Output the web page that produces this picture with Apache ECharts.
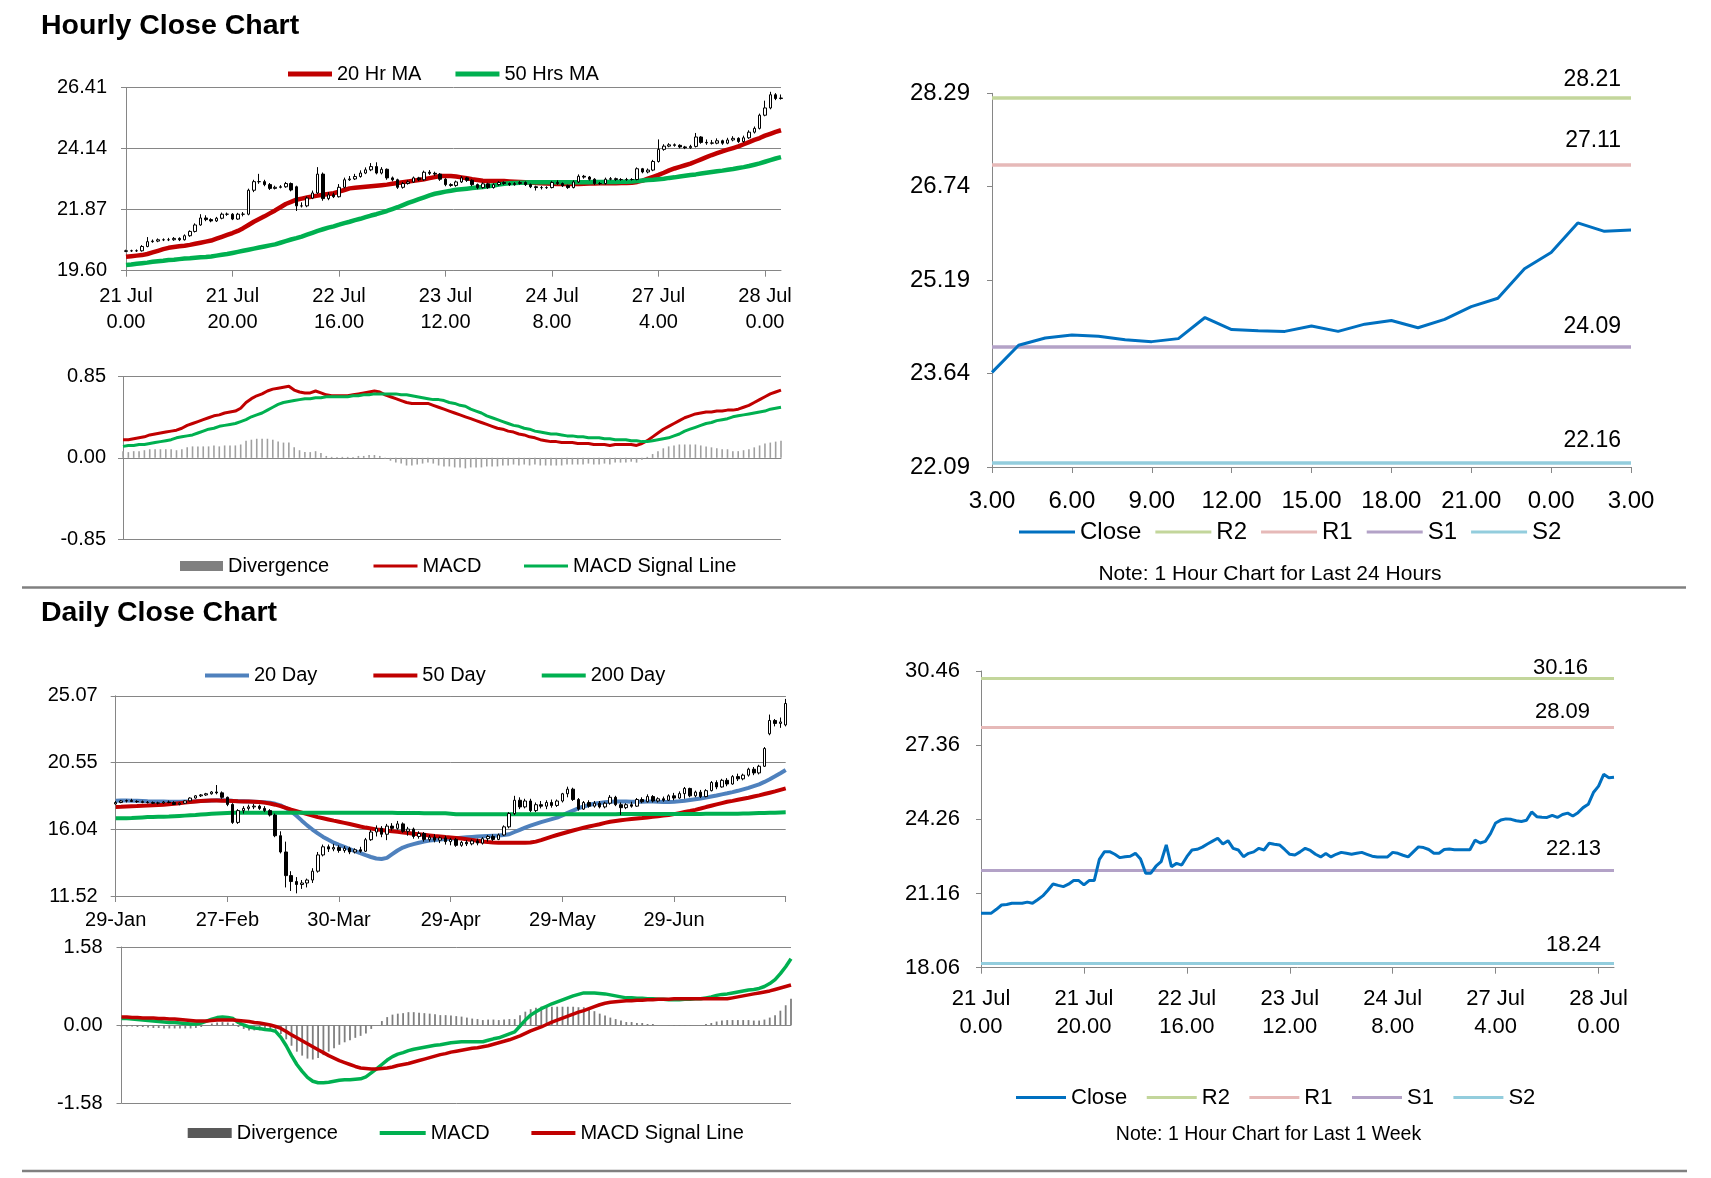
<!DOCTYPE html>
<html><head><meta charset="utf-8">
<script src="https://cdn.jsdelivr.net/npm/echarts@6/dist/echarts.min.js"></script>
<style>html,body{margin:0;padding:0;background:#fff}#c{width:1711px;height:1178px}</style>
</head><body><div id="c"></div>
<script>
const FONT = "'Liberation Sans', Arial, sans-serif";

// ---------- Hourly data: 21 Jul 0.00 .. 28 Jul 3.00 ----------
const hourDays = ['21 Jul','22 Jul','23 Jul','24 Jul','27 Jul','28 Jul'];
const hourCounts = [24,24,24,24,24,4];
const hourOpen = [
20.32,20.34,20.34,20.34,20.50,20.68,20.70,20.75,20.75,20.75,
20.80,20.75,20.90,21.06,21.30,21.56,21.50,21.45,21.55,21.70,
21.70,21.52,21.70,21.70,22.59,22.91,22.91,22.80,22.66,22.70,
22.72,22.84,22.72,22.01,22.01,22.30,22.49,23.19,22.28,22.42,
22.35,22.70,22.98,23.01,23.10,23.23,23.35,23.47,23.23,23.37,
23.05,22.98,22.70,22.84,22.90,23.05,22.98,23.26,23.22,23.19,
23.00,22.80,22.77,22.90,23.05,22.96,22.80,22.69,22.83,22.69,
22.80,22.88,22.84,22.80,22.84,22.88,22.80,22.72,22.69,22.69,
22.69,22.88,22.84,22.76,22.69,22.90,23.11,23.08,23.00,22.84,
22.84,23.00,23.02,22.99,22.99,22.99,22.99,23.39,23.27,23.34,
23.66,24.11,24.23,24.28,24.26,24.20,24.17,24.22,24.57,24.37,
24.35,24.34,24.43,24.34,24.46,24.52,24.40,24.54,24.75,24.89,
25.38,25.65,26.14,26.00];
const hourHigh = [
20.38,20.38,20.39,20.55,20.85,20.76,20.80,20.80,20.82,20.85,
20.84,20.95,21.10,21.36,21.70,21.66,21.55,21.60,21.76,21.76,
21.74,21.75,21.78,22.65,22.98,23.20,22.98,22.86,22.76,22.78,
22.90,22.88,22.76,22.14,22.36,22.58,23.45,23.25,22.52,22.50,
22.82,23.06,23.12,23.20,23.33,23.44,23.60,23.63,23.45,23.40,
23.10,23.02,22.90,22.96,23.10,23.09,23.32,23.34,23.28,23.23,
23.04,22.85,22.95,23.12,23.09,23.00,22.84,22.88,22.87,22.85,
22.93,22.92,22.88,22.89,22.93,22.92,22.84,22.76,22.75,22.74,
22.93,22.96,22.88,22.80,22.96,23.18,23.16,23.12,23.04,22.90,
23.06,23.08,23.06,23.04,23.05,23.04,23.44,23.42,23.40,23.72,
24.48,24.30,24.34,24.33,24.30,24.24,24.28,24.72,24.60,24.48,
24.46,24.52,24.47,24.54,24.60,24.56,24.62,24.82,24.96,25.44,
25.92,26.25,26.20,26.15];
const hourLow = [
20.29,20.30,20.30,20.31,20.47,20.64,20.66,20.70,20.70,20.71,
20.70,20.72,20.86,21.02,21.27,21.44,21.40,21.41,21.51,21.64,
21.48,21.49,21.62,21.66,22.52,22.83,22.74,22.60,22.62,22.66,
22.68,22.55,21.82,21.95,21.96,22.26,22.45,22.20,22.22,22.30,
22.32,22.66,22.94,22.97,23.06,23.19,23.30,23.18,23.18,22.98,
22.92,22.64,22.65,22.80,22.86,22.93,22.94,23.16,23.13,22.94,
22.74,22.72,22.72,22.86,22.90,22.74,22.63,22.65,22.64,22.65,
22.76,22.79,22.75,22.76,22.80,22.75,22.67,22.58,22.62,22.64,
22.66,22.79,22.71,22.64,22.66,22.86,23.02,22.95,22.79,22.79,
22.80,22.96,22.94,22.94,22.94,22.95,22.96,23.22,23.22,23.30,
23.62,24.06,24.19,24.21,24.15,24.12,24.13,24.18,24.32,24.28,
24.29,24.30,24.28,24.30,24.41,24.35,24.36,24.50,24.70,24.85,
25.34,25.60,25.94,25.96];
const hourClose = [
20.34,20.34,20.34,20.50,20.68,20.70,20.75,20.75,20.75,20.80,
20.75,20.90,21.06,21.30,21.56,21.50,21.45,21.55,21.70,21.70,
21.52,21.70,21.70,22.59,22.91,22.91,22.80,22.66,22.70,22.72,
22.84,22.60,22.01,22.01,22.30,22.49,23.19,22.28,22.42,22.35,
22.70,22.98,23.01,23.10,23.23,23.35,23.47,23.23,23.37,23.05,
22.98,22.70,22.84,22.90,23.05,22.98,23.26,23.22,23.19,23.00,
22.80,22.77,22.90,23.05,22.96,22.80,22.69,22.83,22.69,22.80,
22.88,22.84,22.80,22.84,22.88,22.80,22.72,22.69,22.69,22.69,
22.88,22.84,22.76,22.69,22.90,23.11,23.08,23.00,22.84,22.84,
23.00,23.02,22.99,22.99,22.99,22.99,23.39,23.27,23.34,23.66,
24.11,24.23,24.28,24.26,24.20,24.17,24.22,24.57,24.37,24.35,
24.34,24.43,24.34,24.46,24.52,24.40,24.54,24.75,24.89,25.38,
25.65,26.14,26.00,26.02];
const ma20Hr = [
20.12,20.14,20.16,20.18,20.22,20.28,20.34,20.40,20.45,20.48,
20.51,20.53,20.56,20.60,20.64,20.68,20.72,20.79,20.86,20.93,
21.00,21.08,21.18,21.30,21.42,21.52,21.62,21.73,21.84,21.96,
22.08,22.16,22.24,22.28,22.32,22.36,22.39,22.42,22.45,22.48,
22.54,22.60,22.66,22.68,22.70,22.72,22.74,22.76,22.78,22.80,
22.83,22.86,22.89,22.92,22.94,22.97,23.00,23.04,23.08,23.12,
23.12,23.12,23.10,23.07,23.04,23.00,22.97,22.94,22.93,22.93,
22.93,22.93,22.92,22.91,22.90,22.89,22.88,22.86,22.85,22.84,
22.83,22.82,22.82,22.82,22.82,22.82,22.83,22.84,22.84,22.85,
22.85,22.85,22.85,22.86,22.86,22.87,22.90,22.95,23.02,23.09,
23.16,23.24,23.33,23.40,23.46,23.52,23.58,23.66,23.74,23.82,
23.90,23.97,24.04,24.10,24.16,24.22,24.30,24.38,24.46,24.53,
24.62,24.69,24.76,24.82];
const ma50Hr = [
19.81,19.83,19.86,19.88,19.90,19.93,19.95,19.97,20.00,20.01,
20.03,20.05,20.06,20.08,20.10,20.11,20.13,20.16,20.19,20.22,
20.26,20.30,20.34,20.38,20.42,20.46,20.50,20.54,20.58,20.64,
20.70,20.76,20.81,20.87,20.94,21.01,21.08,21.14,21.20,21.25,
21.31,21.37,21.42,21.48,21.53,21.59,21.65,21.70,21.76,21.82,
21.89,21.96,22.04,22.12,22.19,22.26,22.33,22.40,22.46,22.50,
22.54,22.57,22.61,22.63,22.65,22.67,22.69,22.71,22.74,22.77,
22.80,22.83,22.85,22.86,22.87,22.88,22.89,22.89,22.89,22.89,
22.89,22.89,22.89,22.89,22.89,22.89,22.89,22.89,22.90,22.90,
22.90,22.90,22.90,22.91,22.91,22.92,22.93,22.95,22.97,22.98,
23.00,23.02,23.05,23.07,23.10,23.13,23.16,23.18,23.21,23.24,
23.27,23.30,23.32,23.35,23.38,23.42,23.45,23.49,23.54,23.59,
23.65,23.71,23.77,23.82];
const macdHour = [
0.19,0.19,0.20,0.21,0.22,0.24,0.25,0.26,0.27,0.28,
0.29,0.31,0.34,0.36,0.38,0.40,0.42,0.44,0.45,0.47,
0.48,0.49,0.52,0.58,0.62,0.65,0.67,0.70,0.72,0.73,
0.74,0.75,0.71,0.69,0.68,0.68,0.70,0.68,0.66,0.65,
0.65,0.65,0.65,0.66,0.67,0.68,0.69,0.70,0.69,0.66,
0.64,0.62,0.60,0.58,0.57,0.57,0.57,0.57,0.55,0.53,
0.51,0.49,0.47,0.45,0.43,0.41,0.39,0.37,0.35,0.33,
0.31,0.30,0.28,0.27,0.25,0.24,0.22,0.21,0.19,0.18,
0.17,0.17,0.16,0.16,0.16,0.15,0.15,0.15,0.14,0.14,
0.14,0.13,0.14,0.14,0.14,0.14,0.13,0.15,0.18,0.22,
0.26,0.30,0.33,0.36,0.39,0.42,0.44,0.46,0.47,0.48,
0.48,0.49,0.49,0.50,0.50,0.51,0.53,0.55,0.58,0.61,
0.64,0.67,0.69,0.71];
const signalHour = [
0.12,0.13,0.13,0.14,0.14,0.15,0.16,0.17,0.18,0.19,
0.21,0.22,0.23,0.24,0.26,0.28,0.30,0.31,0.33,0.34,
0.35,0.36,0.38,0.40,0.43,0.45,0.47,0.50,0.53,0.56,
0.58,0.59,0.60,0.61,0.62,0.62,0.63,0.63,0.64,0.64,
0.64,0.64,0.64,0.65,0.65,0.66,0.66,0.67,0.67,0.67,
0.67,0.67,0.66,0.66,0.65,0.64,0.63,0.62,0.61,0.61,
0.60,0.58,0.57,0.55,0.54,0.51,0.49,0.47,0.44,0.42,
0.40,0.38,0.36,0.34,0.33,0.31,0.30,0.28,0.27,0.26,
0.25,0.25,0.24,0.23,0.23,0.22,0.22,0.21,0.21,0.21,
0.20,0.20,0.19,0.19,0.19,0.18,0.18,0.17,0.17,0.18,
0.19,0.20,0.21,0.23,0.25,0.28,0.30,0.32,0.34,0.36,
0.37,0.39,0.40,0.41,0.43,0.44,0.45,0.46,0.47,0.48,
0.49,0.51,0.52,0.53];
const divergenceHour = [
0.07,0.06,0.07,0.07,0.08,0.09,0.09,0.09,0.09,0.09,
0.08,0.09,0.11,0.12,0.12,0.12,0.12,0.13,0.12,0.13,
0.13,0.13,0.14,0.18,0.19,0.20,0.20,0.20,0.19,0.17,
0.16,0.16,0.11,0.08,0.06,0.06,0.07,0.05,0.02,0.01,
0.01,0.01,0.01,0.01,0.02,0.02,0.03,0.03,0.02,-0.01,
-0.03,-0.05,-0.06,-0.08,-0.08,-0.07,-0.06,-0.05,-0.06,-0.08,
-0.09,-0.09,-0.10,-0.10,-0.11,-0.10,-0.10,-0.10,-0.09,-0.09,
-0.09,-0.08,-0.08,-0.07,-0.08,-0.07,-0.08,-0.07,-0.08,-0.08,
-0.08,-0.08,-0.08,-0.07,-0.07,-0.07,-0.07,-0.06,-0.07,-0.07,
-0.06,-0.07,-0.05,-0.05,-0.05,-0.04,-0.05,-0.02,0.01,0.04,
0.07,0.10,0.12,0.13,0.14,0.14,0.14,0.14,0.13,0.12,
0.11,0.10,0.09,0.09,0.07,0.07,0.08,0.09,0.11,0.13,
0.15,0.16,0.17,0.18];

// ---------- Last 24 hours ----------
const last24Labels = ['3.00','4.00','5.00','6.00','7.00','8.00','9.00','10.00','11.00','12.00','13.00','14.00','15.00','16.00','17.00','18.00','19.00','20.00','21.00','22.00','23.00','0.00','1.00','2.00','3.00'];
const last24Close = [23.66,24.11,24.23,24.28,24.26,24.20,24.17,24.22,24.57,24.37,24.35,24.34,24.43,24.34,24.46,24.52,24.40,24.54,24.75,24.89,25.38,25.65,26.14,26.00,26.02];
const levelNames = ['R2','R1','S1','S2'];
const last24Levels = [28.21, 27.11, 24.09, 22.16];
const weekLevels = [30.16, 28.09, 22.13, 18.24];

// ---------- Daily data: 29 Jan .. 28 Jul ----------
const dailyTickLabels = ['29-Jan','27-Feb','30-Mar','29-Apr','29-May','29-Jun'];
const dailyOpen = [
17.75,17.85,17.95,17.98,17.92,17.90,17.86,17.84,17.80,17.82,
17.88,17.85,17.72,17.80,17.96,18.15,18.30,18.36,18.44,18.56,
18.50,18.20,17.72,16.50,17.30,17.45,17.55,17.60,17.45,17.30,
17.00,15.60,14.50,12.90,12.50,12.30,12.40,12.60,13.20,14.30,
14.85,14.70,14.80,14.60,14.75,14.50,14.65,14.55,15.33,15.85,
16.10,15.70,16.25,16.10,16.40,15.90,16.05,15.55,15.75,15.35,
15.50,15.30,15.45,15.20,15.35,14.95,15.15,15.05,15.25,15.10,
15.40,15.55,15.35,15.65,16.20,17.10,18.00,17.55,17.95,17.30,
17.70,17.60,17.85,17.65,17.95,18.44,18.75,18.05,17.40,17.85,
17.60,17.80,17.55,17.80,18.20,17.70,17.50,17.70,17.60,18.05,
17.90,18.25,17.95,18.10,18.00,18.30,18.15,18.45,18.80,18.30,
18.55,18.25,18.65,19.20,18.90,19.35,19.10,19.60,19.45,19.70,
20.10,19.85,20.30,22.50,23.40,23.20,23.10];
const dailyHigh = [
17.95,18.02,18.05,18.10,18.00,17.98,17.95,17.92,17.90,17.95,
17.98,17.94,17.86,18.00,18.20,18.35,18.42,18.50,18.62,19.03,
18.60,18.25,17.80,17.40,17.60,17.70,17.75,17.70,17.60,17.40,
17.10,15.90,15.20,13.20,12.80,12.60,12.70,13.40,14.50,15.00,
15.00,15.05,14.95,14.90,14.85,14.75,14.85,15.45,16.00,16.30,
16.25,16.40,16.45,16.60,16.50,16.20,16.15,15.90,15.85,15.65,
15.70,15.55,15.60,15.45,15.45,15.25,15.30,15.35,15.40,15.50,
15.65,15.70,15.75,16.30,17.20,18.30,18.20,18.10,18.10,17.85,
17.95,18.00,18.05,18.05,18.50,18.92,18.85,18.15,17.95,18.00,
17.95,17.95,17.90,18.35,18.30,17.85,17.80,17.90,18.15,18.20,
18.40,18.35,18.20,18.25,18.40,18.50,18.60,18.90,18.85,18.65,
18.70,18.75,19.30,19.35,19.45,19.50,19.70,19.80,19.80,20.20,
20.25,20.40,21.60,23.80,23.50,23.60,24.86];
const dailyLow = [
17.70,17.80,17.85,17.88,17.82,17.80,17.78,17.75,17.72,17.76,
17.80,17.68,17.66,17.76,17.92,18.10,18.22,18.30,18.38,18.40,
18.10,17.60,16.40,16.40,17.10,17.30,17.40,17.35,17.20,16.90,
15.50,14.40,12.10,11.86,11.70,12.00,12.10,12.40,13.10,14.20,
14.50,14.55,14.45,14.45,14.35,14.40,14.45,14.50,15.25,15.55,
15.50,15.30,15.95,16.00,15.80,15.60,15.40,15.40,15.20,15.20,
15.15,15.10,15.00,14.95,14.85,14.85,14.90,14.95,14.95,15.00,
15.20,15.25,15.30,15.60,16.10,17.00,17.40,17.45,17.20,17.20,
17.45,17.40,17.50,17.55,17.85,18.20,17.95,17.30,17.35,17.50,
17.50,17.45,17.45,17.70,17.60,17.00,17.40,17.50,17.55,17.80,
17.85,17.85,17.85,17.90,17.95,18.00,18.10,18.10,18.20,18.20,
18.15,18.20,18.60,18.75,18.85,18.95,19.05,19.30,19.35,19.60,
19.70,19.75,20.25,22.40,23.00,22.90,23.00];
const dailyClose = [
17.85,17.95,17.98,17.92,17.90,17.86,17.84,17.80,17.82,17.88,
17.85,17.72,17.80,17.96,18.15,18.30,18.36,18.44,18.56,18.50,
18.20,17.72,16.50,17.30,17.45,17.55,17.60,17.45,17.30,17.00,
15.60,14.50,12.90,12.50,12.30,12.40,12.60,13.20,14.30,14.85,
14.70,14.80,14.60,14.75,14.50,14.65,14.55,15.33,15.85,16.10,
15.70,16.25,16.10,16.40,15.90,16.05,15.55,15.75,15.35,15.50,
15.30,15.45,15.20,15.35,14.95,15.15,15.05,15.25,15.10,15.40,
15.55,15.35,15.65,16.20,17.10,18.00,17.55,17.95,17.30,17.70,
17.60,17.85,17.65,17.95,18.44,18.75,18.05,17.40,17.85,17.60,
17.80,17.55,17.80,18.20,17.70,17.50,17.70,17.60,18.05,17.90,
18.25,17.95,18.10,18.00,18.30,18.15,18.45,18.80,18.30,18.55,
18.25,18.65,19.20,18.90,19.35,19.10,19.60,19.45,19.70,20.10,
19.85,20.30,21.50,23.40,23.20,23.30,24.55];
const ma20Day = [
17.97,17.98,17.98,17.97,17.96,17.95,17.93,17.92,17.91,17.91,
17.90,17.90,17.90,17.91,17.92,17.93,17.95,17.97,17.99,18.00,
18.00,17.99,17.96,17.94,17.93,17.92,17.90,17.88,17.86,17.83,
17.76,17.65,17.48,17.25,16.95,16.62,16.30,16.02,15.76,15.52,
15.32,15.13,14.98,14.84,14.70,14.56,14.42,14.28,14.16,14.06,
14.03,14.10,14.35,14.60,14.80,14.93,15.03,15.12,15.20,15.27,
15.31,15.34,15.37,15.40,15.43,15.46,15.49,15.52,15.54,15.56,
15.58,15.60,15.62,15.65,15.70,15.85,16.00,16.15,16.28,16.40,
16.52,16.62,16.72,16.82,16.98,17.15,17.30,17.45,17.58,17.68,
17.76,17.82,17.87,17.90,17.91,17.91,17.91,17.90,17.90,17.90,
17.91,17.91,17.90,17.89,17.89,17.90,17.93,17.97,18.02,18.07,
18.12,18.18,18.25,18.32,18.40,18.47,18.55,18.64,18.74,18.84,
18.96,19.08,19.24,19.42,19.62,19.83,20.05];
const ma50Day = [
17.55,17.56,17.58,17.60,17.61,17.63,17.64,17.66,17.68,17.70,
17.73,17.76,17.80,17.84,17.88,17.92,17.95,17.97,17.98,17.98,
17.97,17.96,17.95,17.93,17.92,17.91,17.90,17.88,17.84,17.78,
17.70,17.60,17.48,17.36,17.26,17.16,17.06,16.96,16.86,16.78,
16.70,16.62,16.55,16.47,16.39,16.31,16.22,16.15,16.09,16.03,
15.98,15.94,15.90,15.86,15.82,15.78,15.74,15.70,15.66,15.62,
15.58,15.55,15.51,15.48,15.45,15.41,15.36,15.31,15.26,15.21,
15.17,15.14,15.13,15.13,15.13,15.13,15.13,15.13,15.14,15.20,
15.30,15.42,15.54,15.65,15.75,15.85,15.95,16.05,16.14,16.22,
16.30,16.38,16.47,16.55,16.60,16.65,16.69,16.73,16.77,16.80,
16.84,16.88,16.92,16.96,17.00,17.06,17.13,17.20,17.27,17.35,
17.44,17.54,17.63,17.72,17.81,17.90,17.96,18.03,18.10,18.17,
18.25,18.33,18.42,18.51,18.60,18.70,18.80];
const ma200Day = [
16.78,16.78,16.79,16.80,16.82,16.84,16.86,16.87,16.88,16.89,
16.90,16.92,16.94,16.96,16.98,17.00,17.03,17.06,17.08,17.10,
17.12,17.14,17.16,17.16,17.16,17.16,17.16,17.16,17.16,17.16,
17.16,17.16,17.16,17.15,17.15,17.15,17.15,17.15,17.15,17.15,
17.15,17.15,17.15,17.15,17.15,17.15,17.15,17.15,17.15,17.15,
17.15,17.15,17.15,17.14,17.14,17.13,17.13,17.13,17.12,17.12,
17.12,17.12,17.12,17.09,17.06,17.05,17.05,17.05,17.05,17.05,
17.05,17.05,17.05,17.05,17.05,17.06,17.06,17.06,17.06,17.06,
17.06,17.06,17.06,17.06,17.06,17.06,17.06,17.06,17.06,17.06,
17.06,17.06,17.06,17.06,17.06,17.07,17.07,17.07,17.07,17.07,
17.07,17.07,17.07,17.07,17.07,17.07,17.07,17.07,17.07,17.07,
17.07,17.08,17.08,17.08,17.08,17.08,17.08,17.09,17.10,17.11,
17.12,17.13,17.14,17.15,17.16,17.17,17.18];
const macdDay = [
0.13,0.13,0.12,0.11,0.10,0.09,0.08,0.07,0.06,0.05,
0.05,0.04,0.03,0.02,0.02,0.04,0.08,0.12,0.15,0.16,
0.15,0.13,0.05,0.00,-0.04,-0.06,-0.07,-0.09,-0.10,-0.13,
-0.25,-0.42,-0.62,-0.80,-0.94,-1.06,-1.14,-1.17,-1.17,-1.16,
-1.14,-1.12,-1.11,-1.11,-1.10,-1.09,-1.05,-0.97,-0.89,-0.80,
-0.71,-0.64,-0.59,-0.56,-0.52,-0.49,-0.47,-0.45,-0.43,-0.41,
-0.40,-0.38,-0.36,-0.35,-0.34,-0.34,-0.34,-0.34,-0.34,-0.31,
-0.28,-0.26,-0.22,-0.18,-0.14,-0.02,0.10,0.20,0.27,0.33,
0.38,0.43,0.47,0.51,0.55,0.59,0.62,0.65,0.65,0.65,
0.64,0.63,0.61,0.59,0.57,0.55,0.55,0.54,0.54,0.53,
0.53,0.52,0.52,0.51,0.51,0.51,0.52,0.52,0.53,0.53,
0.55,0.57,0.60,0.62,0.63,0.65,0.67,0.69,0.71,0.72,
0.74,0.78,0.84,0.92,1.04,1.18,1.34];
const signalDay = [
0.16,0.16,0.15,0.15,0.14,0.14,0.14,0.13,0.13,0.12,
0.12,0.11,0.10,0.09,0.08,0.08,0.08,0.09,0.10,0.10,
0.10,0.10,0.09,0.08,0.07,0.05,0.04,0.02,0.00,-0.03,
-0.07,-0.13,-0.20,-0.26,-0.32,-0.38,-0.44,-0.50,-0.56,-0.62,
-0.67,-0.72,-0.76,-0.80,-0.84,-0.87,-0.88,-0.89,-0.89,-0.88,
-0.87,-0.85,-0.82,-0.80,-0.78,-0.75,-0.72,-0.69,-0.66,-0.63,
-0.60,-0.58,-0.55,-0.53,-0.51,-0.49,-0.47,-0.46,-0.44,-0.42,
-0.39,-0.36,-0.33,-0.30,-0.26,-0.22,-0.17,-0.12,-0.08,-0.04,
0.01,0.06,0.10,0.14,0.18,0.22,0.26,0.29,0.33,0.37,
0.41,0.44,0.46,0.47,0.48,0.49,0.49,0.50,0.50,0.51,
0.51,0.52,0.52,0.52,0.53,0.53,0.53,0.53,0.53,0.53,
0.53,0.53,0.53,0.53,0.53,0.55,0.57,0.59,0.61,0.63,
0.65,0.67,0.69,0.72,0.75,0.78,0.81];
const divergenceDay = [
-0.03,-0.03,-0.03,-0.04,-0.04,-0.05,-0.06,-0.06,-0.07,-0.07,
-0.07,-0.07,-0.07,-0.07,-0.06,-0.04,0.00,0.03,0.05,0.06,
0.05,0.03,-0.04,-0.08,-0.11,-0.11,-0.11,-0.11,-0.10,-0.10,
-0.18,-0.29,-0.42,-0.54,-0.62,-0.68,-0.70,-0.67,-0.61,-0.54,
-0.47,-0.40,-0.35,-0.31,-0.26,-0.22,-0.17,-0.08,0.00,0.08,
0.16,0.21,0.23,0.24,0.26,0.26,0.25,0.24,0.23,0.22,
0.20,0.20,0.19,0.18,0.17,0.15,0.13,0.12,0.10,0.11,
0.11,0.10,0.11,0.12,0.12,0.20,0.27,0.32,0.35,0.37,
0.37,0.37,0.37,0.37,0.37,0.37,0.36,0.36,0.32,0.28,
0.23,0.19,0.15,0.12,0.09,0.06,0.06,0.04,0.04,0.02,
0.02,0.00,0.00,-0.01,-0.02,-0.02,-0.01,-0.01,0.00,0.00,
0.02,0.04,0.07,0.09,0.10,0.10,0.10,0.10,0.10,0.09,
0.09,0.11,0.15,0.20,0.29,0.40,0.53];

// ---------- categories built from labels ----------
const hourLabels = [];
hourDays.forEach((d, k) => { for (let h = 0; h < hourCounts[k]; h++) hourLabels.push(d + '\n' + h + '.00'); });
const dailyCats = dailyClose.map((_, i) => 'd' + i);

// ---------- styling helpers ----------
const GRAY = '#868686';
const RED = '#c00000', GREEN = '#00b050', BLUE = '#4f81bd', CLOSE = '#0070c0';
const levelColors = ['#c3d69b', '#e6b9b8', '#b3a2c7', '#93cddd'];
const txt = s => ({ color: '#000', fontSize: s, fontFamily: FONT });

function vAxis(gi, min, max, interval, fs, margin, split) {
  return { type: 'value', gridIndex: gi, min, max, interval,
    axisLine: { show: true, lineStyle: { color: GRAY, width: 1 } },
    axisTick: { show: true, length: 5, lineStyle: { color: GRAY } },
    splitLine: { show: split, lineStyle: { color: GRAY, width: 1 } },
    axisLabel: Object.assign(txt(fs), { margin, formatter: v => v.toFixed(2) }) };
}
function cAxis(gi, data, every, fs, margin, lh, showLabel, formatter) {
  const lab = Object.assign(txt(fs), { show: showLabel, interval: every - 1, margin, lineHeight: lh });
  if (formatter) lab.formatter = formatter;
  return { type: 'category', gridIndex: gi, data, boundaryGap: false,
    axisLine: { show: true, onZero: true, lineStyle: { color: GRAY, width: 1 } },
    axisTick: { show: showLabel, interval: every - 1, length: 6, lineStyle: { color: GRAY } },
    axisLabel: lab, splitLine: { show: false } };
}
function line(name, xi, data, color, width, z) {
  return { name, type: 'line', xAxisIndex: xi, yAxisIndex: xi, data, showSymbol: false, symbol: 'none',
    lineStyle: { color, width }, itemStyle: { color }, z: z || 2, emphasis: { disabled: true } };
}
function level(k, value, xi, fs, dist, width) {
  const color = levelColors[k];
  return { name: levelNames[k], type: 'line', xAxisIndex: xi, yAxisIndex: xi, data: [],
    itemStyle: { color }, lineStyle: { color, width },
    markLine: { silent: true, symbol: ['none', 'none'], animation: false, z: 3,
      lineStyle: { color, width, type: 'solid' },
      label: Object.assign(txt(fs), { show: true, position: 'insideEndTop', distance: dist, formatter: () => value.toFixed(2) }),
      emphasis: { disabled: true },
      data: [{ yAxis: value }] } };
}
function legend(left, cy, fs, w, h, gap, data) {
  return { left, top: cy - (fs + 4) / 2, padding: 0, orient: 'horizontal', itemWidth: w, itemHeight: h, itemGap: gap,
    icon: 'rect', selectedMode: false, textStyle: Object.assign(txt(fs), { lineHeight: fs + 4 }), data };
}
const candleStyle = { color: '#ffffff', color0: '#000000', borderColor: '#000000', borderColor0: '#000000', borderWidth: 1 };

const trDist = [[10, 7], [10, 12], [10, 8.5], [10, 11]];
const brDist = [[26, -1], [24, 5], [13, 10], [13, 7.5]];

const option = {
  animation: false,
  backgroundColor: '#ffffff',
  grid: [
    { left: 126, top: 87.5, width: 655, height: 183.2 },
    { left: 123, top: 376.7, width: 658, height: 162.3 },
    { left: 992, top: 93.3, width: 639, height: 373.7 },
    { left: 115.7, top: 695.8, width: 670, height: 200.2 },
    { left: 121.5, top: 947, width: 669.5, height: 156 },
    { left: 981, top: 671, width: 633, height: 296.7 }
  ].map(g => Object.assign(g, { containLabel: false, outerBoundsMode: 'none', show: false })),
  xAxis: [
    cAxis(0, hourLabels, 20, 20, 13, 26, true),
    cAxis(1, hourLabels, 20, 20, 13, 26, false),
    cAxis(2, last24Labels, 3, 24, 20, 28, true),
    cAxis(3, dailyCats, 21, 20, 12, 24, true, (v, i) => dailyTickLabels[Math.round(i / 21)] || ''),
    cAxis(4, dailyCats, 21, 20, 12, 24, false),
    cAxis(5, hourLabels, 20, 22, 17, 28, true)
  ],
  yAxis: [
    vAxis(0, 19.60, 26.41, 2.27, 20, 19, true),
    vAxis(1, -0.85, 0.85, 0.85, 20, 17, true),
    vAxis(2, 22.09, 28.29, 1.55, 24, 22, false),
    vAxis(3, 11.52, 25.07, (25.07 - 11.52) / 3, 20, 18, true),
    vAxis(4, -1.58, 1.58, 1.58, 20, 19, true),
    vAxis(5, 18.06, 30.46, 3.10, 22, 21, false)
  ],
  legend: [
    legend(288, 74, 20, 44, 5, 34, ['20 Hr MA', '50 Hrs MA']),
    legend(180, 566, 20, 43, 10, 10, [{ name: 'Divergence', itemStyle: { color: '#808080' } }]),
    legend(373.5, 566, 20, 44, 3, 10, [{ name: 'MACD', itemStyle: { color: RED } }]),
    legend(524, 566, 20, 44, 3, 10, [{ name: 'MACD Signal Line', itemStyle: { color: GREEN } }]),
    legend(1019, 532, 24, 56, 3, 14, ['Close', 'R2', 'R1', 'S1', 'S2']),
    legend(205, 675.6, 20, 44, 4, 56, ['20 Day', '50 Day', '200 Day']),
    legend(187.7, 1133, 20, 44, 10, 10, [{ name: 'Divergence', itemStyle: { color: '#595959' } }]),
    legend(379.7, 1133, 20, 46, 4, 10, [{ name: 'MACD', itemStyle: { color: GREEN } }]),
    legend(531.4, 1133, 20, 44, 4, 10, [{ name: 'MACD Signal Line', itemStyle: { color: RED } }]),
    legend(1016, 1097.6, 22, 50, 3, 19.5, ['Close', 'R2', 'R1', 'S1', 'S2'])
  ],
  series: [
    { name: 'Hourly', type: 'candlestick', xAxisIndex: 0, yAxisIndex: 0, barWidth: 3,
      data: hourOpen.map((o, i) => [o, hourClose[i], hourLow[i], hourHigh[i]]), itemStyle: candleStyle },
    line('20 Hr MA', 0, ma20Hr, RED, 4.5),
    line('50 Hrs MA', 0, ma50Hr, GREEN, 4.5),
    { name: 'Divergence', type: 'bar', xAxisIndex: 1, yAxisIndex: 1, data: divergenceHour, barWidth: 1.6,
      itemStyle: { color: '#a0a0a0' } },
    line('MACD', 1, macdHour, RED, 3),
    line('MACD Signal Line', 1, signalHour, GREEN, 3),

    line('Close', 2, last24Close, CLOSE, 3, 10),
    ...last24Levels.map((v, k) => level(k, v, 2, 23, trDist[k], 3.5)),

    { name: 'Daily', type: 'candlestick', xAxisIndex: 3, yAxisIndex: 3, barWidth: 3,
      data: dailyOpen.map((o, i) => [o, dailyClose[i], dailyLow[i], dailyHigh[i]]), itemStyle: candleStyle },
    line('20 Day', 3, ma20Day, BLUE, 4),
    line('50 Day', 3, ma50Day, RED, 4),
    line('200 Day', 3, ma200Day, GREEN, 4),
    { name: 'Divergence', type: 'bar', xAxisIndex: 4, yAxisIndex: 4, data: divergenceDay, barWidth: 1.8,
      itemStyle: { color: '#7f7f7f' } },
    line('MACD', 4, macdDay, GREEN, 3.5),
    line('MACD Signal Line', 4, signalDay, RED, 3.5),

    line('Close', 5, hourClose, CLOSE, 3, 10),
    ...weekLevels.map((v, k) => level(k, v, 5, 22, brDist[k], 3))
  ],
  graphic: [
    { type: 'text', x: 41, y: 26, style: { text: 'Hourly Close Chart', fill: '#000', fontSize: 28.5, fontWeight: 'bold', fontFamily: FONT, align: 'left', verticalAlign: 'middle' } },
    { type: 'text', x: 41, y: 613.5, style: { text: 'Daily Close Chart', fill: '#000', fontSize: 28.5, fontWeight: 'bold', fontFamily: FONT, align: 'left', verticalAlign: 'middle' } },
    { type: 'text', x: 1270, y: 574, style: { text: 'Note: 1 Hour Chart for Last 24 Hours', fill: '#000', fontSize: 21, fontFamily: FONT, align: 'center', verticalAlign: 'middle' } },
    { type: 'text', x: 1268.5, y: 1134.5, style: { text: 'Note: 1 Hour Chart for Last 1 Week', fill: '#000', fontSize: 19.5, fontFamily: FONT, align: 'center', verticalAlign: 'middle' } },
    { type: 'line', shape: { x1: 22, y1: 587.5, x2: 1686, y2: 587.5 }, style: { stroke: '#808080', lineWidth: 2.5 } },
    { type: 'line', shape: { x1: 22, y1: 1171, x2: 1687, y2: 1171 }, style: { stroke: '#808080', lineWidth: 2.5 } }
  ]
};

const chart = echarts.init(document.getElementById('c'), null, { renderer: 'canvas' });
chart.setOption(option);
</script>
</body></html>
